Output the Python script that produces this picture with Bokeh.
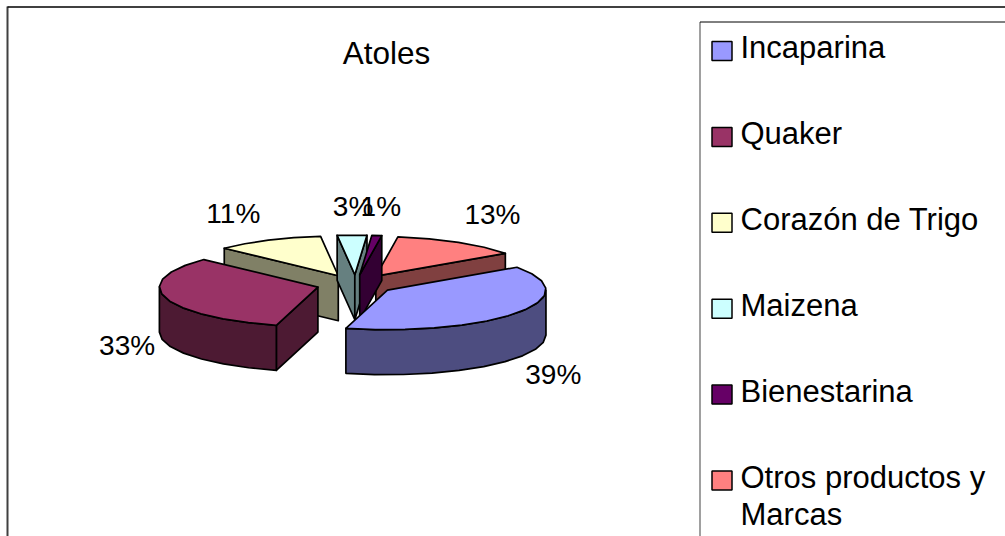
import math
from bokeh.plotting import figure
from bokeh.core.properties import value
from bokeh.embed import file_html
from bokeh.resources import INLINE

# ---- data ----
title_text = "Atoles"
categories = ["Incaparina", "Quaker", "Corazón de Trigo", "Maizena", "Bienestarina", "Otros productos y Marcas"]
shares = [39, 33, 11, 3, 1, 13]
top_colors = ["#9999FF", "#993366", "#FFFFCC", "#CCFFFF", "#660066", "#FF8080"]
side_colors = ["#4D4D80", "#4D1A33", "#808066", "#668080", "#330033", "#804040"]
legend_lines = [["Incaparina"], ["Quaker"], ["Corazón de Trigo"], ["Maizena"], ["Bienestarina"], ["Otros productos y", "Marcas"]]

# ---- pie geometry (pixels of the page) ----
W, H = 1005, 536
CX, CY = 355.0, 284.0
R, K, DEPTH, EXPLODE = 158.5, 0.25, 45.0, 39.0
START = 54.8          # degrees clockwise from north
ARC_STEP = 11.0       # coarse polygon arcs, as in the reference
DRAW_ORDER = [2, 3, 5, 4, 1, 0]
LABEL_OFFSET = [(36, 17), (-38, 3), (-35, -27), (1, -29), (4, -29), (34, -28)]
FONT = "Liberation Sans"

p = figure(width=W, height=H, x_range=(0, W), y_range=(H, 0), toolbar_location=None,
           output_backend="svg", min_border=0, outline_line_color=None,
           background_fill_color="white", border_fill_color="white",
           x_axis_type=None, y_axis_type=None)
p.grid.visible = False
p.styles = {"position": "absolute", "left": "0px", "top": "0px"}

def pt(apex, a, r=R):
    t = math.radians(a)
    return apex[0] + r * math.sin(t), apex[1] - r * K * math.cos(t)

def arc_angles(a0, a1):
    n = max(1, round((a1 - a0) / ARC_STEP))
    return [a0 + (a1 - a0) * i / n for i in range(n + 1)]

total = sum(shares)
slices = []
a = START
for s in shares:
    b = a + 360.0 * s / total
    mid = (a + b) / 2
    t = math.radians(mid)
    apex = (CX + EXPLODE * math.sin(t), CY - EXPLODE * K * math.cos(t))
    slices.append((a, b, mid, apex))
    a = b

def poly(xy, fill):
    p.patch([q[0] for q in xy], [q[1] for q in xy], fill_color=fill,
            line_color="black", line_width=1.7, line_join="round")

for i in DRAW_ORDER:
    a0, a1, mid, apex = slices[i]
    low = (apex[0], apex[1] + DEPTH)
    # cut faces that look towards the viewer
    if 180 < (a0 % 360) < 360:
        e = pt(apex, a0)
        poly([apex, e, (e[0], e[1] + DEPTH), low], side_colors[i])
    if 0 < (a1 % 360) < 180:
        e = pt(apex, a1)
        poly([apex, e, (e[0], e[1] + DEPTH), low], side_colors[i])
    # outer wall
    w0, w1 = max(a0, 90), min(a1, 270)
    if w1 > w0:
        up = [pt(apex, x) for x in arc_angles(w0, w1)]
        poly(up + [(q[0], q[1] + DEPTH) for q in reversed(up)], side_colors[i])
    # top
    poly([apex] + [pt(apex, x) for x in arc_angles(a0, a1)], top_colors[i])

# percentage labels
for i, s in enumerate(shares):
    a0, a1, mid, apex = slices[i]
    wall = DEPTH if 90 < mid < 270 else 0
    ox, oy = pt(apex, mid)
    p.text([ox + LABEL_OFFSET[i][0]], [oy + wall + LABEL_OFFSET[i][1]], text=[f"{s}%"],
           text_font=value(FONT), text_font_size="28px", text_color="black",
           text_align="center", text_baseline="middle")

# title
p.text([386], [52], text=[title_text], text_font=value(FONT), text_font_size="31.5px",
       text_color="black", text_align="center", text_baseline="middle")

# chart frame and legend box (both run off the page)
p.line([7, 7], [6, H], line_color="#404040", line_width=2)
p.line([7, W], [6.5, 6.5], line_color="black", line_width=1.5)
p.line([699.5, 699.5], [21.5, H], line_color="#808080", line_width=1.5)
p.line([699.5, W], [21.5, 21.5], line_color="black", line_width=1)

# legend
LEG_Y0, LEG_STEP, LEG_LINE = 50.5, 85.9, 37.0
for i, lines in enumerate(legend_lines):
    cy = LEG_Y0 + i * LEG_STEP
    p.quad(left=[711.5], right=[731.5], top=[cy - 9.5], bottom=[cy + 9.5], fill_color=top_colors[i],
           line_color="black", line_width=1.5)
    for j, t in enumerate(lines):
        p.text([740], [cy - 3.5 + j * LEG_LINE], text=[t], text_font=value(FONT), text_font_size="31px",
               text_color="black", text_align="left", text_baseline="middle")

open("out.html", "w").write(file_html(p, INLINE))
